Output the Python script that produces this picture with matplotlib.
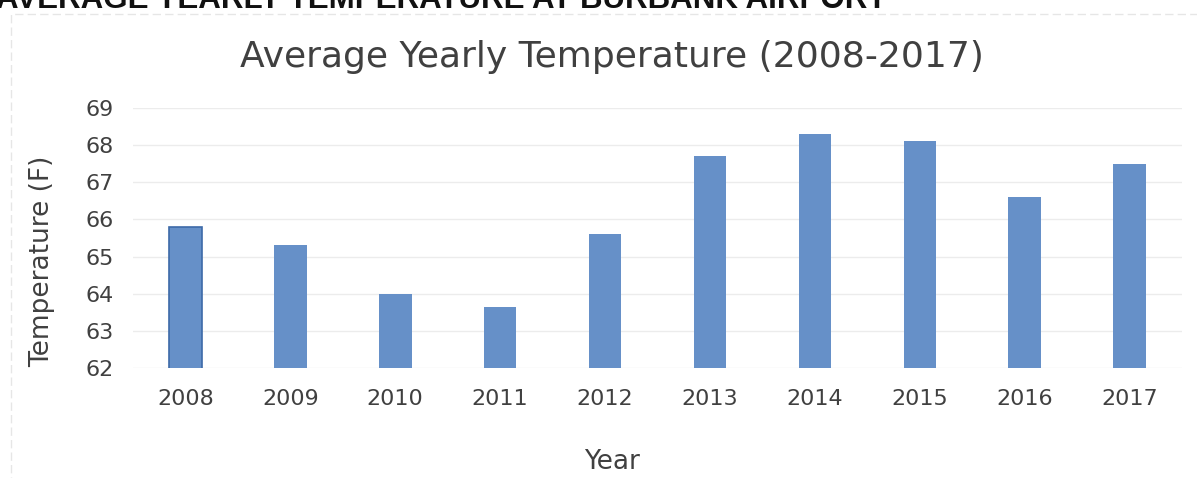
import matplotlib.pyplot as plt
from matplotlib.patches import Rectangle

plt.rcParams['font.family'] = 'DejaVu Sans'

# yearly averages at Burbank airport
years = ['2008', '2009', '2010', '2011', '2012', '2013', '2014', '2015', '2016', '2017']
temps = [65.8, 65.3, 64.0, 63.65, 65.6, 67.7, 68.3, 68.1, 66.6, 67.5]
yticks = [62, 63, 64, 65, 66, 67, 68, 69]

text_col = '#404040'
bar_col = '#6690c8'

fig = plt.figure(figsize=(11.97, 4.78), dpi=100)
ax = fig.add_axes([0.1111, 0.2301, 0.8764, 0.5439])

x = range(len(years))
bars = ax.bar(x, temps, width=0.31, bottom=0, color=bar_col, zorder=3)
# first bar is drawn with a darker outline
bars[0].set_edgecolor('#3d6aa8')
bars[0].set_linewidth(1.2)

ax.set_ylim(62, 69)
ax.set_xlim(-0.5, len(years) - 0.5)
ax.set_yticks(yticks)
ax.set_xticks(list(x))
ax.set_xticklabels(years)
ax.yaxis.grid(True, color='#ececec', linewidth=1, zorder=0)
for s in ax.spines.values():
    s.set_visible(False)
ax.tick_params(length=0, labelsize=16, colors=text_col)
ax.tick_params(axis='x', pad=15)
ax.tick_params(axis='y', pad=14)

fig.text(612 / 1197, 1 - 57 / 478, 'Average Yearly Temperature (2008-2017)',
         fontsize=26, color=text_col, ha='center', va='center')
fig.text(612 / 1197, 1 - 462 / 478, 'Year', fontsize=19, color=text_col,
         ha='center', va='center')
fig.text(42 / 1197, 1 - 261 / 478, 'Temperature (F)', fontsize=19,
         color=text_col, ha='center', va='center', rotation=90)

# heading above the chart, partly off the top edge
fig.text(-0.003, 1 - 8 / 478, 'AVERAGE YEARLY TEMPERATURE AT BURBANK AIRPORT',
         fontsize=22.5, fontweight='bold', family='Liberation Sans',
         color='#111111', va='baseline', ha='left')

# faint dashed frame around the chart
fig.add_artist(Rectangle((0.009, -0.05), 1.1, 1.02, transform=fig.transFigure,
                         fill=False, edgecolor='#e6e6e6', linewidth=1,
                         linestyle=(0, (6, 3))))

fig.savefig('out.png', dpi=100)
